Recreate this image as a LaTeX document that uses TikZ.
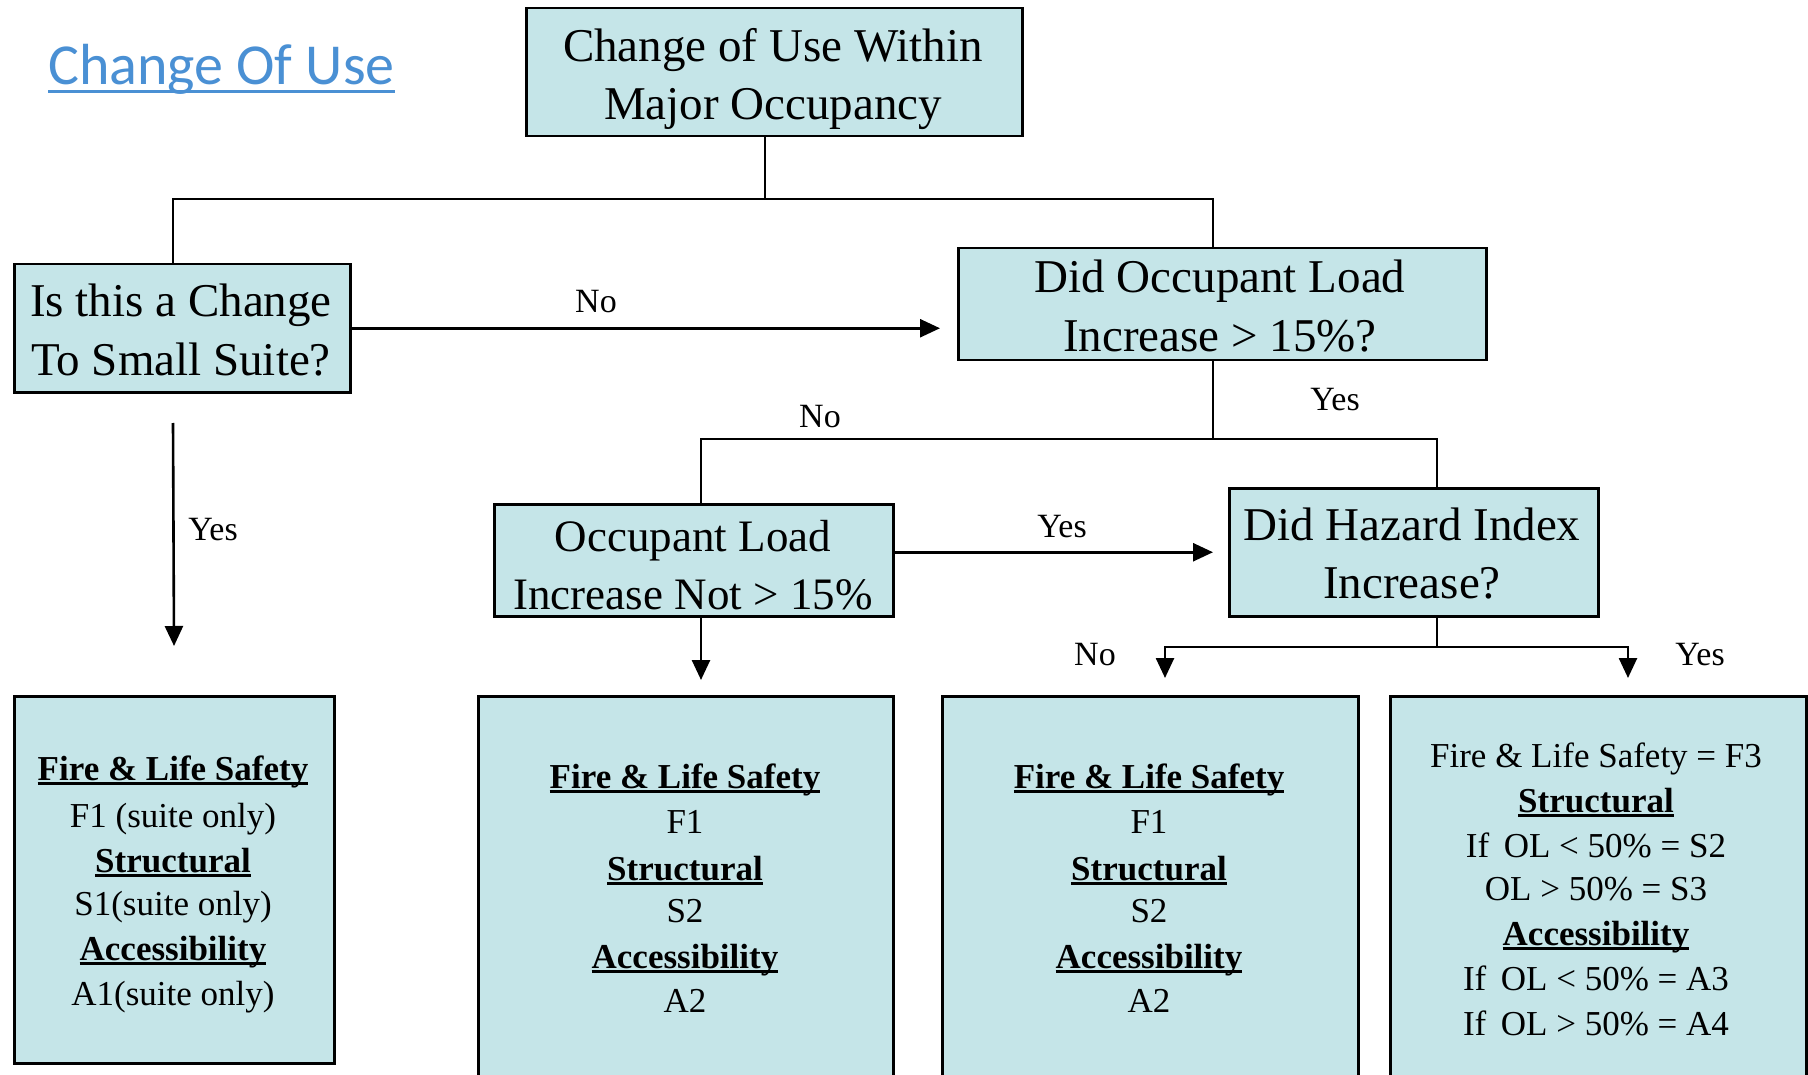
\documentclass[tikz,border=0pt]{standalone}
\usepackage{fontspec}
\setmainfont{Liberation Serif}
\newfontfamily\titlefont{Carlito}
\usetikzlibrary{arrows.meta}
\definecolor{boxfill}{RGB}{197,229,232}
\definecolor{titleblue}{RGB}{74,144,212}
% underline at a fixed depth below the baseline: depth, thickness, text
\newcommand\ulined[3]{\setbox0=\hbox{#3}\rlap{\rule[-#1]{\wd0}{#2}}\box0}
\newcommand\hd[1]{\textbf{\ulined{5pt}{3pt}{#1}}}
\begin{document}
\begin{tikzpicture}[x=1pt,y=-1pt,
  box/.style={draw=black,line width=2.5pt,fill=boxfill,inner sep=0pt,anchor=north west},
  qtext/.style={font=\fontsize{47}{56}\selectfont,inner sep=0pt,anchor=base},
  rtext/.style={font=\fontsize{35}{42}\selectfont,inner sep=0pt,anchor=base},
  lbl/.style={font=\fontsize{34}{40}\selectfont,inner sep=0pt,anchor=base},
  conn/.style={line width=2.6pt},
  thin/.style={line width=2pt},
  arr/.style={conn,-{Triangle[length=20pt,width=18pt]}}]
\useasboundingbox (0,0) rectangle (1808,1075);
\clip (0,0) rectangle (1808,1075);
\fill[white] (0,0) rectangle (1808,1075);

% heading
\node[anchor=base west,inner sep=0pt,text=titleblue,font=\titlefont\fontsize{58}{66}\selectfont]
  (title) at (48,85) {\ulined{8.5pt}{3pt}{Change Of Use}};

% decision boxes
\node[box,minimum width=496pt,minimum height=128pt] (top) at (525,7) {};
\node[box,minimum width=336pt,minimum height=128pt] (small) at (13,263) {};
\node[box,minimum width=528pt,minimum height=112pt] (occ) at (957,247) {};
\node[box,minimum width=399pt,minimum height=112pt] (notinc) at (493,503) {};
\node[box,minimum width=369pt,minimum height=128pt] (hazard) at (1228,487) {};

% result boxes
\node[box,minimum width=320pt,minimum height=367pt] (res1) at (13,695) {};
\node[box,minimum width=415pt,minimum height=420pt] (res2) at (477,695) {};
\node[box,minimum width=416pt,minimum height=420pt] (res3) at (941,695) {};
\node[box,minimum width=416pt,minimum height=420pt] (res4) at (1389,695) {};

% decision texts
\node[qtext] (top1) at (773,62) {Change of Use Within};
\node[qtext] (top2) at (773,120) {Major Occupancy};
\node[qtext] (small1) at (181,317) {Is this a Change};
\node[qtext] (small2) at (181,375) {To Small Suite?};
\node[qtext] (occ1) at (1220,293) {Did Occupant Load};
\node[qtext] (occ2) at (1220,352) {Increase > 15\%?};
\node[qtext,font=\fontsize{45}{54}\selectfont] (notinc1) at (693,551) {Occupant Load};
\node[qtext,font=\fontsize{45}{54}\selectfont] (notinc2) at (693,609) {Increase Not > 15\%};
\node[qtext] (haz1) at (1412,540) {Did Hazard Index};
\node[qtext] (haz2) at (1412,598) {Increase?};

% result texts
\node[rtext] (r1a) at (173,780) {\hd{Fire \& Life Safety}};
\node[rtext] (r1b) at (173,827) {F1 (suite only)};
\node[rtext] (r1c) at (173,872) {\hd{Structural}};
\node[rtext] (r1d) at (173,915) {S1(suite only)};
\node[rtext] (r1e) at (173,960) {\hd{Accessibility}};
\node[rtext] (r1f) at (173,1005) {A1(suite only)};

\node[rtext] (r2a) at (685,788) {\hd{Fire \& Life Safety}};
\node[rtext] (r2b) at (685,833) {F1};
\node[rtext] (r2c) at (685,880) {\hd{Structural}};
\node[rtext] (r2d) at (685,922) {S2};
\node[rtext] (r2e) at (685,968) {\hd{Accessibility}};
\node[rtext] (r2f) at (685,1012) {A2};

\node[rtext] (r3a) at (1149,788) {\hd{Fire \& Life Safety}};
\node[rtext] (r3b) at (1149,833) {F1};
\node[rtext] (r3c) at (1149,880) {\hd{Structural}};
\node[rtext] (r3d) at (1149,922) {S2};
\node[rtext] (r3e) at (1149,968) {\hd{Accessibility}};
\node[rtext] (r3f) at (1149,1012) {A2};

\node[rtext] (r4a) at (1596,767) {Fire \& Life Safety = F3};
\node[rtext] (r4b) at (1596,812) {\hd{Structural}};
\node[rtext] (r4c) at (1596,857) {If\, OL < 50\% = S2};
\node[rtext] (r4d) at (1596,900) {OL > 50\% = S3};
\node[rtext] (r4e) at (1596,945) {\hd{Accessibility}};
\node[rtext] (r4f) at (1596,990) {If\, OL < 50\% = A3};
\node[rtext] (r4g) at (1596,1035) {If\, OL > 50\% = A4};

% junction points of the connector tree
\coordinate (hub1) at (765,199);
\coordinate (k1) at (173,199);
\coordinate (k2) at (1213,199);
\coordinate (k3) at (1213,439);
\coordinate (k4) at (701,439);
\coordinate (k5) at (1437,439);
\coordinate (k6) at (1437,647);
\coordinate (k7) at (1165,647);
\coordinate (k8) at (1628,647);
\coordinate (ys) at (173,423);

% connectors
\draw[thin] (top.south -| hub1) -- (hub1);
\draw[conn] (small.north -| k1) -- (k1) -- (k2) -- (occ.north -| k2);
\draw[arr,shorten >=17pt] (small.east) -- (small.east -| occ.west);
\draw[thin] (occ.south -| k3) -- (k3);
\draw[conn] (notinc.north -| k4) -- (k4) -- (k5) -- (hazard.north -| k5);
\draw[arr,shorten >=49pt] (ys) -- (res1.north);
\draw[arr,shorten >=15pt] (notinc.south -| k4) -- (res2.north -| k4);
\draw[arr,shorten >=15pt] (notinc.east |- hazard.west) -- (hazard.west);
\draw[thin] (hazard.south -| k6) -- (k6);
\draw[arr,shorten >=17pt] (k6) -- (k7) -- (res3.north -| k7);
\draw[arr,shorten >=17pt] (k6) -- (k8) -- (res4.north -| k8);

% branch labels
\node[lbl] (lno1) at (596,313) {No};
\node[lbl] (lyes1) at (1335,410) {Yes};
\node[lbl] (lno2) at (820,428) {No};
\node[lbl] (lyes2) at (213,540) {Yes};
\node[lbl] (lyes3) at (1062,537) {Yes};
\node[lbl] (lno3) at (1095,665) {No};
\node[lbl] (lyes4) at (1700,665) {Yes};
\end{tikzpicture}
\end{document}
